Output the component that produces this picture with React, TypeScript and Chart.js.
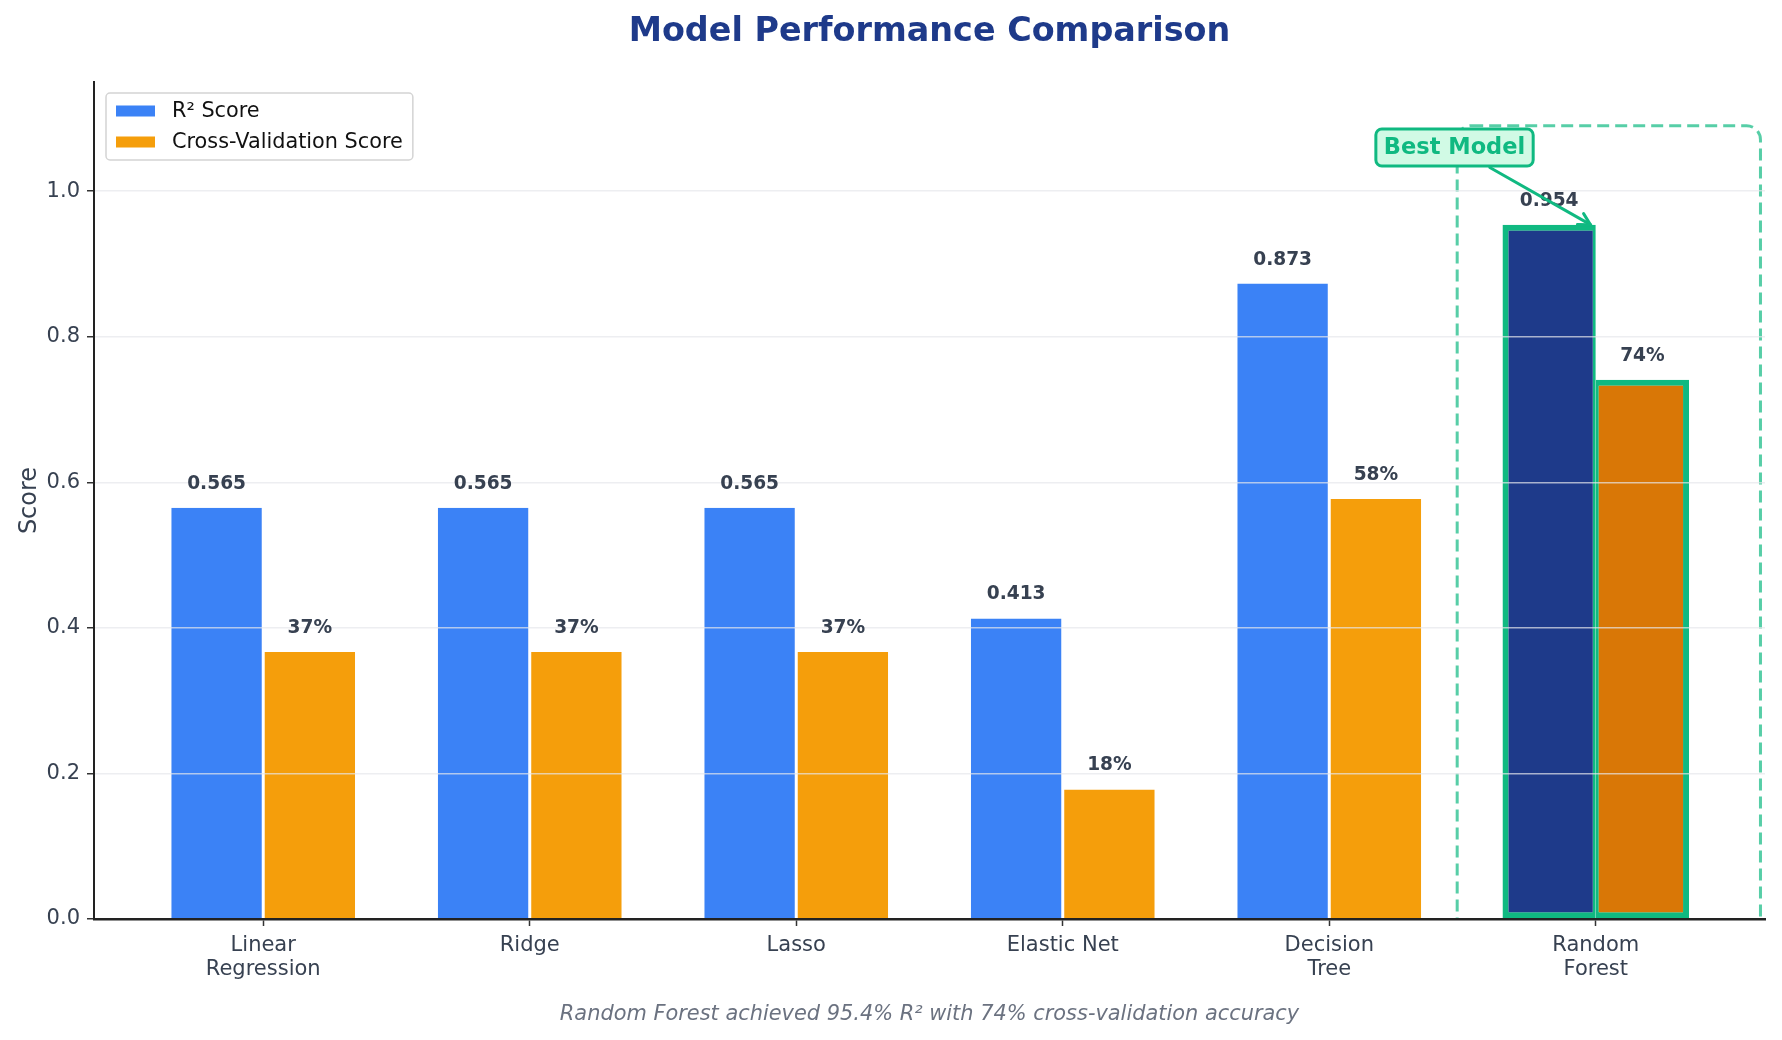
import { useEffect, useRef } from "react";
import { Chart, registerables } from "chart.js";

Chart.register(...registerables);

const models = [
  ["Linear", "Regression"],
  ["Ridge"],
  ["Lasso"],
  ["Elastic Net"],
  ["Decision", "Tree"],
  ["Random", "Forest"],
];
const r2Scores = [0.565, 0.565, 0.565, 0.413, 0.873, 0.954];
const cvScores = [0.367, 0.367, 0.367, 0.178, 0.577, 0.741];
const yTicks = [0, 0.2, 0.4, 0.6, 0.8, 1.0];
const seriesLabels = ["R² Score", "Cross-Validation Score"];
const bestIndex = 5;

const BLUE = "#3b82f6";
const ORANGE = "#f59e0b";
const BEST_BLUE = "#1e3a8a";
const BEST_ORANGE = "#d97706";
const GREEN = "#10b981";
const FONT = '"DejaVu Sans"';

const overlayPlugin = {
  id: "overlay",
  beforeDatasetsDraw(chart: any) {
    const { ctx, chartArea, scales } = chart;
    const { x, y } = scales;
    // dashed highlight round the best model
    ctx.save();
    ctx.beginPath();
    ctx.rect(chartArea.left, chartArea.top, chartArea.width, chartArea.height);
    ctx.clip();
    const left = x.getPixelForValue(bestIndex - 0.52);
    const right = x.getPixelForValue(bestIndex + 0.618);
    const top = y.getPixelForValue(1.09);
    const bottom = y.getPixelForValue(-0.02);
    ctx.setLineDash([12, 6]);
    ctx.lineWidth = 3;
    ctx.strokeStyle = "rgba(16,185,129,0.7)";
    ctx.beginPath();
    ctx.roundRect(left, top, right - left, bottom - top, 14);
    ctx.stroke();
    ctx.restore();
  },
  afterDraw(chart: any) {
    const { ctx, chartArea, scales } = chart;
    const { x, y } = scales;
    const midX = (chartArea.left + chartArea.right) / 2;

    ctx.save();
    // value labels
    ctx.font = `bold 18.6px ${FONT}`;
    ctx.fillStyle = "#374151";
    ctx.textAlign = "center";
    ctx.textBaseline = "alphabetic";
    chart.data.datasets.forEach((ds: any, di: number) => {
      const meta = chart.getDatasetMeta(di);
      meta.data.forEach((bar: any, j: number) => {
        const v = ds.data[j].y;
        const txt = di === 0 ? v.toFixed(3) : `${Math.round(v * 100)}%`;
        ctx.fillText(txt, bar.x, bar.y - 19);
      });
    });

    // "Best Model" annotation
    const cx = x.getPixelForValue(4.47);
    const cy = y.getPixelForValue(1.06);
    const tx = x.getPixelForValue(4.98);
    const ty = y.getPixelForValue(r2Scores[bestIndex]);
    ctx.font = `bold 22.5px ${FONT}`;
    const tw = ctx.measureText("Best Model").width;
    const bw = tw + 16;
    const bh = 37;
    // arrow
    const dx = tx - cx;
    const dy = ty - cy;
    const t0 = Math.min(Math.abs(bw / 2 / dx), Math.abs(bh / 2 / dy)) + 0.02;
    const sx = cx + dx * t0;
    const sy = cy + dy * t0;
    const ang = Math.atan2(dy, dx);
    ctx.strokeStyle = GREEN;
    ctx.lineWidth = 3;
    ctx.lineCap = "round";
    ctx.beginPath();
    ctx.moveTo(sx, sy);
    ctx.lineTo(tx, ty);
    ctx.stroke();
    ctx.beginPath();
    ctx.moveTo(tx - 13 * Math.cos(ang - 0.5), ty - 13 * Math.sin(ang - 0.5));
    ctx.lineTo(tx, ty);
    ctx.lineTo(tx - 13 * Math.cos(ang + 0.5), ty - 13 * Math.sin(ang + 0.5));
    ctx.stroke();
    // box
    ctx.beginPath();
    ctx.roundRect(cx - bw / 2, cy - bh / 2, bw, bh, 6);
    ctx.fillStyle = "#d1fae5";
    ctx.fill();
    ctx.lineWidth = 3;
    ctx.strokeStyle = GREEN;
    ctx.stroke();
    ctx.fillStyle = GREEN;
    ctx.textBaseline = "middle";
    ctx.fillText("Best Model", cx, cy + 1);

    // legend
    ctx.font = `20.8px ${FONT}`;
    const lx = chartArea.left + 12;
    const ly = chartArea.top + 11;
    const textW = Math.max(...seriesLabels.map((s) => ctx.measureText(s).width));
    const lw = 66 + textW + 10;
    const lh = 67;
    ctx.beginPath();
    ctx.roundRect(lx, ly, lw, lh, 4);
    ctx.fillStyle = "rgba(255,255,255,0.85)";
    ctx.fill();
    ctx.lineWidth = 1.5;
    ctx.strokeStyle = "#d4d4d4";
    ctx.stroke();
    const swatch = [BLUE, ORANGE];
    seriesLabels.forEach((label, i) => {
      const rowY = ly + 18 + i * 31;
      ctx.fillStyle = swatch[i];
      ctx.fillRect(lx + 10, rowY - 5.5, 39, 11);
      ctx.fillStyle = "#111111";
      ctx.textAlign = "left";
      ctx.fillText(label, lx + 66, rowY + 1);
    });

    // title and caption
    ctx.textAlign = "center";
    ctx.textBaseline = "middle";
    ctx.font = `bold 33.4px ${FONT}`;
    ctx.fillStyle = BEST_BLUE;
    ctx.fillText("Model Performance Comparison", midX, 32);
    ctx.font = `italic 20.9px ${FONT}`;
    ctx.fillStyle = "#6b7280";
    ctx.fillText(
      "Random Forest achieved 95.4% R² with 74% cross-validation accuracy",
      midX,
      1015
    );
    ctx.restore();
  },
};

export default function App() {
  const canvasRef = useRef<HTMLCanvasElement>(null);
  const chartRef = useRef<Chart | null>(null);

  useEffect(() => {
    document.body.style.margin = "0";
    if (!canvasRef.current) return;
    if (chartRef.current) chartRef.current.destroy();
    const ctx = canvasRef.current.getContext("2d");
    if (!ctx) return;

    Chart.defaults.font.family = FONT;

    const isBest = (c: any) => c.dataIndex === bestIndex;

    chartRef.current = new Chart(ctx, {
      type: "bar",
      data: {
        datasets: [
          {
            label: seriesLabels[0],
            data: r2Scores.map((v, i) => ({ x: i, y: v })),
            backgroundColor: (c: any) => (isBest(c) ? BEST_BLUE : BLUE),
            borderColor: (c: any) => (isBest(c) ? GREEN : "#ffffff"),
            borderWidth: (c: any) =>
              isBest(c)
                ? { top: 6, left: 6, bottom: 6, right: 3 }
                : { top: 0, left: 1.5, bottom: 0, right: 1.5 },
            borderSkipped: (c: any) => (isBest(c) ? false : "start"),
          },
          {
            label: seriesLabels[1],
            data: cvScores.map((v, i) => ({ x: i, y: v })),
            backgroundColor: (c: any) => (isBest(c) ? BEST_ORANGE : ORANGE),
            borderColor: (c: any) => (isBest(c) ? GREEN : "#ffffff"),
            borderWidth: (c: any) =>
              isBest(c)
                ? { top: 6, left: 3, bottom: 6, right: 6 }
                : { top: 0, left: 1.5, bottom: 0, right: 1.5 },
            borderSkipped: (c: any) => (isBest(c) ? false : "start"),
          },
        ] as any,
      },
      options: {
        animation: false,
        responsive: false,
        categoryPercentage: 0.7,
        barPercentage: 1.0,
        layout: { padding: { top: 82, right: 17, left: 0, bottom: 0 } },
        plugins: {
          legend: { display: false },
          title: { display: false },
          tooltip: { enabled: false },
        },
        scales: {
          x: {
            type: "linear",
            offset: false,
            min: -0.635,
            max: 5.635,
            afterBuildTicks: (s: any) => {
              s.ticks = models.map((_, i) => ({ value: i }));
            },
            afterFit: (s: any) => {
              s.height = 121;
            },
            grid: {
              offset: false,
              drawOnChartArea: false,
              drawTicks: true,
              tickLength: 7,
              tickColor: "#333333",
              tickWidth: 1.5,
            },
            border: { display: true, color: "#222222", width: 2.5, z: 2 },
            ticks: {
              color: "#374151",
              font: { size: 21, lineHeight: 1.12 },
              padding: 8,
              autoSkip: false,
              maxRotation: 0,
              callback: (v: any) => models[v as number],
            },
          },
          y: {
            min: 0,
            max: 1.15,
            afterBuildTicks: (s: any) => {
              s.ticks = yTicks.map((v) => ({ value: v }));
            },
            afterFit: (s: any) => {
              s.width = 94;
            },
            grid: {
              color: "rgba(229,231,235,0.7)",
              lineWidth: 1.5,
              tickColor: "#333333",
              tickLength: 7,
              tickWidth: 1.5,
              z: 1,
            },
            border: { display: true, color: "#222222", width: 2, z: 1 },
            ticks: {
              color: "#374151",
              font: { size: 21 },
              padding: 7,
              callback: (v: any) => Number(v).toFixed(1),
            },
            title: {
              display: true,
              text: "Score",
              color: "#374151",
              font: { size: 24 },
              padding: { top: 15.5, bottom: 0 },
            },
          },
        },
      } as any,
      plugins: [overlayPlugin],
    });

    return () => {
      if (chartRef.current) {
        chartRef.current.destroy();
        chartRef.current = null;
      }
    };
  }, []);

  return (
    <div style={{ width: 1782, height: 1040, background: "#ffffff" }}>
      <canvas ref={canvasRef} width={1782} height={1040} style={{ display: "block" }} />
    </div>
  );
}
